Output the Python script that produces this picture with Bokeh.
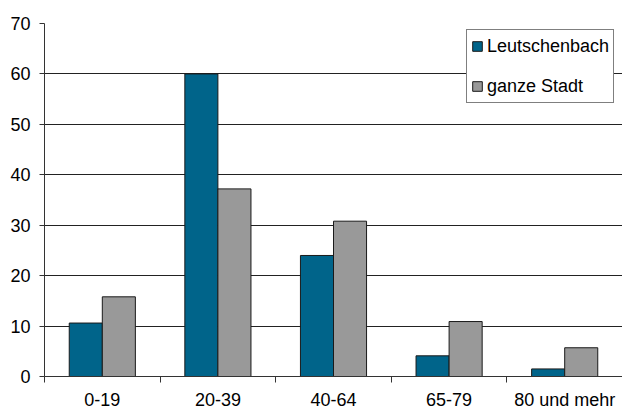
import numpy as np
from bokeh.plotting import figure
from bokeh.models import ColumnDataSource, Range1d, FixedTicker, Legend, LegendItem
from bokeh.transform import dodge
from bokeh.embed import file_html
from bokeh.resources import INLINE

categories = ["0-19", "20-39", "40-64", "65-79", "80 und mehr"]
leutschenbach = [10.6, 60.0, 24.0, 4.1, 1.5]
ganze_stadt = [15.8, 37.2, 30.8, 10.9, 5.7]
y_ticks = [0, 10, 20, 30, 40, 50, 60, 70]

n = len(categories)
centers = np.arange(n) + 0.5
src = ColumnDataSource(dict(x=centers, a=leutschenbach, b=ganze_stadt))

FONT = "Liberation Sans"
BLUE = "#00648A"
GRAY = "#999999"

p = figure(width=622, height=412, output_backend="svg", toolbar_location=None,
           x_range=Range1d(0, n), y_range=Range1d(0, 70),
           min_border_left=44, min_border_right=0, min_border_top=23, min_border_bottom=35)
p.outline_line_color = None
p.background_fill_color = "white"

bw = 0.286
r1 = p.vbar(x=dodge("x", -bw / 2, range=p.x_range), top="a", width=bw, bottom=0, source=src,
            fill_color=BLUE, line_color="#1a1a1a", line_width=1)
r2 = p.vbar(x=dodge("x", bw / 2, range=p.x_range), top="b", width=bw, bottom=0, source=src,
            fill_color=GRAY, line_color="#1a1a1a", line_width=1)

# x axis: labels at centers, ticks at boundaries
p.xaxis.ticker = FixedTicker(ticks=list(centers), minor_ticks=list(range(n + 1)))
p.xaxis.major_label_overrides = {float(c): lab for c, lab in zip(centers, categories)}
p.xaxis.major_tick_line_color = None
p.xaxis.major_tick_out = 0
p.xaxis.major_tick_in = 0
p.xaxis.minor_tick_line_color = "#333333"
p.xaxis.minor_tick_out = 6
p.xaxis.minor_tick_in = 0
p.xaxis.major_label_standoff = 7
p.xaxis.axis_line_color = "#333333"

p.yaxis.ticker = FixedTicker(ticks=y_ticks, minor_ticks=[])
p.yaxis.major_tick_out = 5
p.yaxis.major_tick_in = 0
p.yaxis.major_tick_line_color = "#333333"
p.yaxis.axis_line_color = "#333333"
p.yaxis.major_label_standoff = 9

for ax in (p.xaxis, p.yaxis):
    ax.major_label_text_font = FONT
    ax.major_label_text_font_size = "18px"
    ax.major_label_text_color = "#000000"

p.xgrid.grid_line_color = None
p.ygrid.grid_line_color = "#222222"
p.ygrid.grid_line_width = 1

legend = Legend(items=[LegendItem(label="Leutschenbach", renderers=[r1]),
                       LegendItem(label="ganze Stadt", renderers=[r2])],
                location=(422, 273))
legend.label_text_font = FONT
legend.label_text_font_size = "18px"
legend.label_text_color = "#000000"
legend.glyph_width = 12
legend.glyph_height = 12
legend.label_height = 24
legend.label_standoff = 4
legend.spacing = 16
legend.padding = 4
legend.margin = 0
legend.border_line_color = "#000000"
legend.border_line_width = 1
legend.background_fill_color = "white"
legend.background_fill_alpha = 1
p.add_layout(legend, "center")

open("out.html", "w").write(file_html(p, INLINE))
